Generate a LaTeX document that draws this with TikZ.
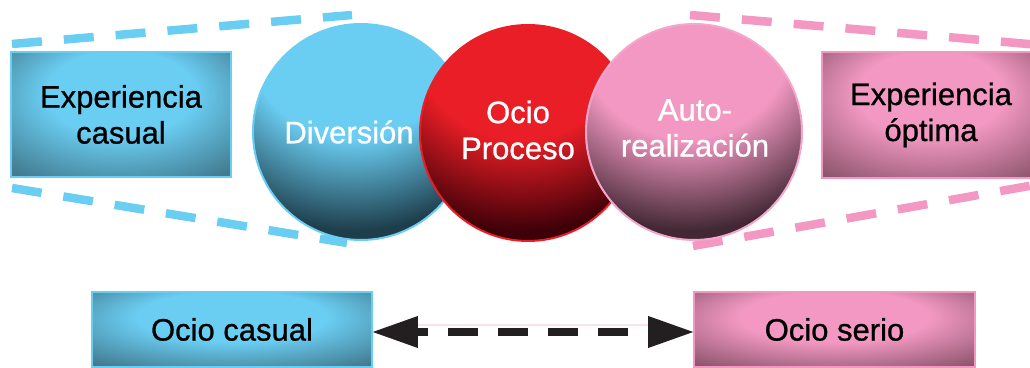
\documentclass[tikz,border=0pt]{standalone}
\usepackage{fontspec}
\setmainfont{Liberation Sans}
\newfontfamily\lblfont[RawFeature={embolden=0.8}]{Liberation Sans}
\usetikzlibrary{arrows.meta}
\definecolor{cblue}{RGB}{106,205,242}
\definecolor{cbluedk}{RGB}{30,62,76}
\definecolor{cblueboxdk}{RGB}{66,122,142}
\definecolor{cred}{RGB}{234,30,38}
\definecolor{creddk}{RGB}{62,0,8}
\definecolor{cpink}{RGB}{242,152,194}
\definecolor{cpinkdk}{RGB}{66,40,52}
\definecolor{cpinkboxdk}{RGB}{142,86,110}
\definecolor{cfaint}{RGB}{251,226,236}
\definecolor{carrow}{RGB}{35,31,32}
\pgfdeclareradialshading{ballblue}{\pgfpoint{-2bp}{25bp}}{color(0bp)=(cblue); color(25bp)=(cblue); color(45bp)=(cbluedk); color(400bp)=(cbluedk)}
\pgfdeclareradialshading{ballred}{\pgfpoint{-2bp}{25bp}}{color(0bp)=(cred); color(25bp)=(cred); color(45bp)=(creddk); color(400bp)=(creddk)}
\pgfdeclareradialshading{ballpink}{\pgfpoint{-2bp}{25bp}}{color(0bp)=(cpink); color(25bp)=(cpink); color(45bp)=(cpinkdk); color(400bp)=(cpinkdk)}
\pgfdeclareradialshading{boxblue}{\pgfpoint{0bp}{12bp}}{color(0bp)=(cblue); color(17bp)=(cblue); color(37bp)=(cblueboxdk); color(60bp)=(cblueboxdk)}
\pgfdeclareradialshading{boxpink}{\pgfpoint{0bp}{12bp}}{color(0bp)=(cpink); color(17bp)=(cpink); color(37bp)=(cpinkboxdk); color(60bp)=(cpinkboxdk)}
\tikzset{
  lbl/.style={font=\lblfont\fontsize{15.5pt}{18pt}\selectfont, align=center, inner sep=0pt},
  boxtxt/.style={lbl, text=black},
  balltxt/.style={lbl, text=white},
  bluebox/.style={rectangle, inner sep=0pt, shade, shading=boxblue, draw=cblue, line width=0.8pt, boxtxt},
  pinkbox/.style={rectangle, inner sep=0pt, shade, shading=boxpink, draw=cpink, line width=0.8pt, boxtxt},
  ball/.style={circle, inner sep=0pt, minimum size=108pt, line width=1pt},
  dashblue/.style={draw=cblue, line width=4.25pt, dash pattern=on 15pt off 11pt},
  dashpink/.style={draw=cpink, line width=4.25pt, dash pattern=on 15pt off 11pt},
  arrowline/.style={draw=carrow, line width=4pt, dash pattern=on 15pt off 10pt, dash phase=10pt,
    {Triangle[length=22.5pt,width=16pt,line width=0pt]}-{Triangle[length=22.5pt,width=16pt,line width=0pt]}},
}
\begin{document}
\begin{tikzpicture}[x=0.5pt,y=-0.5pt]
\useasboundingbox (0,0) rectangle (1030,368);
\clip (0,0) rectangle (1030,368);
% dashed guide lines
\coordinate (lt1) at (12,44);  \coordinate (lt2) at (352,15);
\coordinate (lb1) at (12,188); \coordinate (lb2) at (347,243);
\coordinate (rt1) at (690,15); \coordinate (rt2) at (1040,45);
\coordinate (rb1) at (693,246); \coordinate (rb2) at (1040,184);
\draw[dashblue] (lt1) -- (lt2);
\draw[dashblue] (lb1) -- (lb2);
\draw[dashpink] (rt1) -- (rt2);
\draw[dashpink] (rb1) -- (rb2);
% top boxes
\node[bluebox, minimum width=110pt, minimum height=62.5pt] (ec) at (121,114.5) {Experiencia\\casual};
\node[pinkbox, minimum width=109pt, minimum height=63pt] (eo) at (931,115) {Experiencia\\óptima};
% circles
\node[ball, shade, shading=ballblue, draw=cblue] (div) at (361,132) {};
\node[ball, shade, shading=ballred, draw=cred] (op) at (528,133) {};
\node[ball, shade, shading=ballpink, draw=cpink!85!white] (ar) at (694,132) {};
\node[balltxt] (divt) at (349,132) {Diversión};
\node[balltxt] (opt) at (518,130) {Ocio\\Proceso};
\node[balltxt] (art) at (695,128) {Auto-\\realización};
% bottom boxes
\node[bluebox, minimum width=140pt, minimum height=37.5pt] (oc) at (232,329.5) {Ocio casual};
\node[pinkbox, minimum width=140.5pt, minimum height=37.5pt] (os) at (834.5,329.5) {Ocio serio};
\coordinate (f1) at (412,325); \coordinate (f2) at (652,325);
\draw[cfaint, line width=0.8pt] (f1) -- (f2);
\draw[arrowline] ([yshift=-1.25pt]oc.east) -- ([yshift=-1.25pt]os.west);
\end{tikzpicture}
\end{document}
